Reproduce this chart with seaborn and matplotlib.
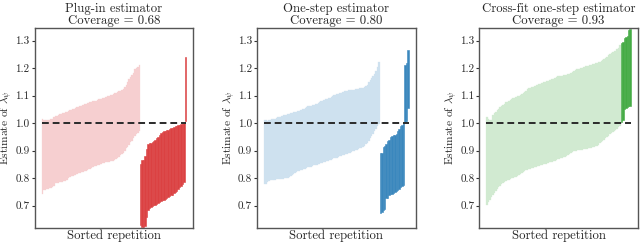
import numpy as np
import matplotlib
matplotlib.use("Agg")
import matplotlib.pyplot as plt
import seaborn as sns

titles = ["Plug-in estimator", "One-step estimator", "Cross-fit one-step estimator"]
coverage = [0.68, 0.80, 0.93]

# Plug-in: covering intervals (sorted), then below-truth, then above-truth
plugin_cover_upper = [1.016, 1.010, 1.011, 1.012, 1.012, 1.013, 1.014, 1.015,
                      1.024, 1.025, 1.026, 1.031, 1.032, 1.033, 1.036, 1.038,
                      1.041, 1.042, 1.044, 1.046, 1.048, 1.050, 1.053, 1.055,
                      1.057, 1.059, 1.061, 1.063, 1.067, 1.068, 1.070, 1.072,
                      1.074, 1.075, 1.077, 1.079, 1.080, 1.082, 1.084, 1.086,
                      1.088, 1.089, 1.091, 1.093, 1.095, 1.097, 1.099, 1.101,
                      1.104, 1.106, 1.108, 1.110, 1.112, 1.115, 1.118, 1.120,
                      1.124, 1.130, 1.140, 1.148, 1.160, 1.168, 1.175, 1.182,
                      1.195, 1.200, 1.205, 1.210]
plugin_cover_lower = [0.744, 0.756, 0.758, 0.760, 0.761, 0.763, 0.765, 0.766,
                      0.770, 0.783, 0.784, 0.784, 0.785, 0.786, 0.787, 0.788,
                      0.789, 0.795, 0.799, 0.803, 0.806, 0.809, 0.811, 0.813,
                      0.815, 0.817, 0.819, 0.821, 0.823, 0.825, 0.827, 0.830,
                      0.832, 0.835, 0.838, 0.840, 0.843, 0.845, 0.847, 0.849,
                      0.851, 0.853, 0.855, 0.856, 0.857, 0.859, 0.860, 0.861,
                      0.862, 0.864, 0.866, 0.868, 0.873, 0.878, 0.883, 0.886,
                      0.892, 0.900, 0.908, 0.915, 0.922, 0.930, 0.936, 0.945,
                      0.955, 0.960, 0.965, 0.970]
plugin_miss_upper = [0.850, 0.865, 0.867, 0.880, 0.905, 0.925, 0.926, 0.928,
                     0.932, 0.935, 0.940, 0.945, 0.950, 0.958, 0.963, 0.968,
                     0.970, 0.972, 0.974, 0.976, 0.978, 0.981, 0.984, 0.987,
                     0.989, 0.991, 0.993, 0.995, 0.997, 0.998, 0.999,
                     1.240]
plugin_miss_lower = [0.630, 0.624, 0.622, 0.625, 0.660, 0.686, 0.690, 0.694,
                     0.698, 0.701, 0.704, 0.707, 0.710, 0.713, 0.716, 0.719,
                     0.722, 0.725, 0.728, 0.731, 0.734, 0.737, 0.740, 0.745,
                     0.750, 0.755, 0.760, 0.766, 0.772, 0.778, 0.785,
                     1.008]

onestep_cover_upper = [1.010, 1.012, 1.008, 1.013, 1.013, 1.014, 1.014, 1.015,
                       1.018, 1.021, 1.022, 1.024, 1.025, 1.028, 1.030, 1.031,
                       1.033, 1.034, 1.036, 1.037, 1.039, 1.040, 1.042, 1.043,
                       1.045, 1.047, 1.050, 1.052, 1.055, 1.058, 1.061, 1.062,
                       1.064, 1.066, 1.067, 1.068, 1.070, 1.073, 1.076, 1.079,
                       1.082, 1.085, 1.087, 1.089, 1.091, 1.093, 1.095, 1.098,
                       1.102, 1.104, 1.105, 1.107, 1.109, 1.111, 1.113, 1.116,
                       1.117, 1.118, 1.119, 1.120, 1.121, 1.122, 1.122, 1.123,
                       1.124, 1.125, 1.126, 1.127, 1.128, 1.130, 1.135, 1.140,
                       1.150, 1.155, 1.165, 1.172, 1.178, 1.190, 1.205, 1.222]
onestep_cover_lower = [0.780, 0.778, 0.785, 0.790, 0.792, 0.794, 0.795, 0.795,
                       0.796, 0.796, 0.797, 0.797, 0.798, 0.798, 0.799, 0.800,
                       0.801, 0.804, 0.808, 0.812, 0.816, 0.819, 0.822, 0.825,
                       0.827, 0.829, 0.831, 0.833, 0.835, 0.837, 0.839, 0.841,
                       0.842, 0.844, 0.846, 0.848, 0.849, 0.851, 0.853, 0.855,
                       0.856, 0.858, 0.860, 0.861, 0.863, 0.865, 0.867, 0.869,
                       0.872, 0.874, 0.875, 0.877, 0.879, 0.881, 0.883, 0.885,
                       0.887, 0.889, 0.891, 0.893, 0.895, 0.898, 0.900, 0.902,
                       0.904, 0.906, 0.908, 0.910, 0.913, 0.918, 0.923, 0.928,
                       0.935, 0.945, 0.955, 0.962, 0.970, 0.980, 0.990, 0.998]
onestep_miss_upper = [0.892, 0.890, 0.912, 0.916, 0.925, 0.934, 0.940, 0.948,
                      0.952, 0.956, 0.958, 0.962, 0.970, 0.980, 0.988, 0.994,
                      0.999,
                      1.212, 1.220, 1.265]
onestep_miss_lower = [0.672, 0.676, 0.686, 0.688, 0.726, 0.728, 0.740, 0.742,
                      0.744, 0.746, 0.748, 0.752, 0.756, 0.762, 0.766, 0.770,
                      0.774,
                      1.003, 1.008, 1.055]

crossfit_cover_upper = [1.022, 1.016, 1.012, 1.013, 1.030, 1.037, 1.042, 1.048,
                        1.053, 1.057, 1.062, 1.066, 1.070, 1.075, 1.078, 1.080,
                        1.085, 1.088, 1.090, 1.093, 1.095, 1.098, 1.100, 1.103,
                        1.106, 1.110, 1.114, 1.118, 1.124, 1.126, 1.128, 1.130,
                        1.132, 1.135, 1.138, 1.140, 1.142, 1.144, 1.146, 1.148,
                        1.150, 1.152, 1.154, 1.156, 1.158, 1.160, 1.162, 1.165,
                        1.168, 1.170, 1.171, 1.172, 1.173, 1.174, 1.175, 1.176,
                        1.178, 1.180, 1.183, 1.186, 1.189, 1.193, 1.195, 1.196,
                        1.198, 1.200, 1.202, 1.204, 1.206, 1.207, 1.208, 1.210,
                        1.212, 1.214, 1.216, 1.218, 1.219, 1.221, 1.223, 1.226,
                        1.230, 1.234, 1.237, 1.242, 1.248, 1.252, 1.256, 1.260,
                        1.262, 1.264, 1.268, 1.272, 1.285]
crossfit_cover_lower = [0.702, 0.712, 0.722, 0.732, 0.740, 0.746, 0.752, 0.760,
                        0.768, 0.772, 0.778, 0.783, 0.786, 0.789, 0.792, 0.795,
                        0.797, 0.799, 0.801, 0.803, 0.805, 0.807, 0.810, 0.814,
                        0.818, 0.822, 0.825, 0.828, 0.830, 0.832, 0.834, 0.836,
                        0.837, 0.839, 0.841, 0.843, 0.845, 0.847, 0.849, 0.850,
                        0.852, 0.853, 0.855, 0.857, 0.858, 0.860, 0.862, 0.864,
                        0.866, 0.868, 0.870, 0.872, 0.874, 0.876, 0.878, 0.880,
                        0.883, 0.886, 0.890, 0.894, 0.898, 0.899, 0.900, 0.901,
                        0.902, 0.903, 0.904, 0.905, 0.906, 0.907, 0.908, 0.909,
                        0.910, 0.912, 0.914, 0.916, 0.918, 0.922, 0.926, 0.930,
                        0.935, 0.940, 0.945, 0.950, 0.955, 0.960, 0.965, 0.968,
                        0.972, 0.976, 0.980, 0.985, 0.990]
crossfit_miss_upper = [1.290, 1.295, 1.310, 1.312, 1.315, 1.338, 1.342]
crossfit_miss_lower = [1.005, 1.010, 1.052, 1.055, 1.058, 1.062, 1.062]

truth = 1.0

panels = [
    (plugin_cover_lower, plugin_cover_upper, plugin_miss_lower, plugin_miss_upper),
    (onestep_cover_lower, onestep_cover_upper, onestep_miss_lower, onestep_miss_upper),
    (crossfit_cover_lower, crossfit_cover_upper, crossfit_miss_lower, crossfit_miss_upper),
]

sns.set_style("white")
plt.rcParams["font.family"] = ["cmr10", "DejaVu Serif"]
plt.rcParams["mathtext.fontset"] = "cm"
plt.rcParams["axes.formatter.use_mathtext"] = True
plt.rcParams["axes.unicode_minus"] = False

pal = sns.color_palette("tab10")
colors = [pal[3], pal[0], pal[2]]


def blend(c, a):
    c = np.asarray(c)
    return tuple(a * c + (1 - a) * np.ones(3))


fig, axes = plt.subplots(1, 3, figsize=(6.4, 2.43), dpi=100)
fig.subplots_adjust(left=0.054, right=0.997, bottom=0.062, top=0.885, wspace=0.40)

for ax, (cl, cu, ml, mu), title, cov, col in zip(axes, panels, titles, coverage, colors):
    cl = np.asarray(cl); cu = np.asarray(cu)
    ml = np.asarray(ml); mu = np.asarray(mu)
    n_c = len(cl)
    xc = np.arange(n_c)
    xm = np.arange(n_c, n_c + len(ml))
    light = blend(col, 0.22)
    dark = blend(col, 0.88)
    ax.bar(xc, cu - cl, bottom=cl, width=1.0, color=light, edgecolor=light, linewidth=0.2)
    ax.bar(xm, mu - ml, bottom=ml, width=1.0, color=dark, edgecolor=dark, linewidth=0.4)
    n = n_c + len(ml)
    ax.hlines(truth, -0.5, n - 0.5, colors="#2a2a2a", linestyles=(0, (3.5, 2)), linewidth=1.4, zorder=3)
    ax.set_xlim(-5.5, n + 4.5)
    ax.set_ylim(0.619, 1.346)
    ax.set_yticks([0.7, 0.8, 0.9, 1.0, 1.1, 1.2, 1.3])
    ax.set_yticklabels(["0.7", "0.8", "0.9", "1.0", "1.1", "1.2", "1.3"])
    ax.set_xticks([])
    ax.tick_params(axis="y", left=True, length=2, width=0.8, labelsize=8, pad=1.5, color="#333333")
    ax.set_title(f"{title}\nCoverage = {cov:.2f}", fontsize=9.2, pad=3, linespacing=1.0)
    ax.set_xlabel("Sorted repetition", fontsize=9.2, labelpad=1)
    ax.set_ylabel(r"Estimate of $\lambda_\psi$", fontsize=8.2, labelpad=0)
    for s in ax.spines.values():
        s.set_color("#555555")
        s.set_linewidth(1.0)

fig.savefig("out.png", dpi=100)
